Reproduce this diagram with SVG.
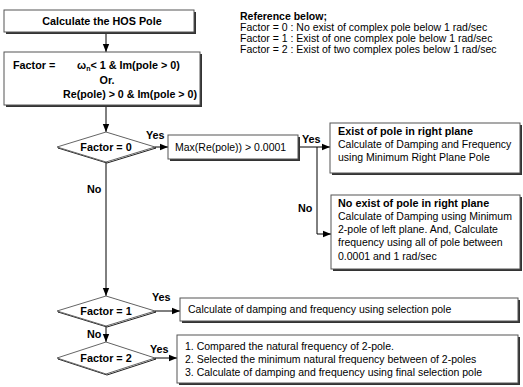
<svg xmlns="http://www.w3.org/2000/svg" width="523" height="387" viewBox="0 0 523 387">
<defs>
<marker id="arr" viewBox="0 0 8 8" refX="8" refY="4" markerWidth="8" markerHeight="8" markerUnits="userSpaceOnUse" orient="auto">
<path d="M0,0.8 L8,4 L0,7.2 z" fill="#000"/>
</marker>
<style>
text{font-family:"Liberation Sans",Arial,sans-serif;fill:#000}
.b{font-weight:bold;font-size:10.8px}
.n{font-size:10.5px}
.r{font-size:10.5px}
.box{fill:#fff;stroke:#555;stroke-width:1}
.sh{fill:#333}
.dia{fill:#fff;stroke:#666;stroke-width:1}
.dsh{fill:none;stroke:#222;stroke-width:1}
.c{stroke:#000;stroke-width:1;fill:none}
</style>
</defs>
<rect width="523" height="387" fill="#fff"/>

<g id="reference">
<text class="b" x="240" y="20" style="font-size:10.5px">Reference below;</text>
<text class="r" x="240" y="31">Factor = 0 : No exist of complex pole below 1 rad/sec</text>
<text class="r" x="240" y="42">Factor = 1 : Exist of one complex pole below 1 rad/sec</text>
<text class="r" x="240" y="53">Factor = 2 : Exist of two complex poles below 1 rad/sec</text>
</g>

<g id="connectors">
<line class="c" x1="106" y1="32" x2="106" y2="52" marker-end="url(#arr)"/>
<line class="c" x1="106" y1="105" x2="106" y2="132" marker-end="url(#arr)"/>
<line class="c" x1="155" y1="147" x2="168" y2="147" marker-end="url(#arr)"/>
<line class="c" x1="298" y1="147" x2="330" y2="147" marker-end="url(#arr)"/>
<polyline class="c" points="317,147 317,234 331,234" marker-end="url(#arr)"/>
<line class="c" x1="106" y1="162" x2="106" y2="296" marker-end="url(#arr)"/>
<line class="c" x1="155" y1="311" x2="180" y2="311" marker-end="url(#arr)"/>
<line class="c" x1="106" y1="326" x2="106" y2="342" marker-end="url(#arr)"/>
<line class="c" x1="155" y1="358" x2="177" y2="358" marker-end="url(#arr)"/>
<text class="b" x="146" y="139">Yes</text>
<text class="b" x="302" y="143">Yes</text>
<text class="b" x="298" y="212">No</text>
<text class="b" x="87" y="193">No</text>
<text class="b" x="152" y="301">Yes</text>
<text class="b" x="87" y="338">No</text>
<text class="b" x="150" y="353">Yes</text>
</g>

<g id="start">
<rect class="sh" x="6" y="12" width="190" height="22"/>
<rect class="box" x="4" y="10" width="190" height="22"/>
<text class="b" x="102" y="25" text-anchor="middle">Calculate the HOS Pole</text>
</g>

<g id="factor">
<rect class="sh" x="6" y="54" width="196" height="53"/>
<rect class="box" x="4" y="52" width="196" height="53"/>
<text class="b" x="13" y="69">Factor =</text>
<text class="b" x="77" y="69">ω<tspan font-size="7" dy="2">n</tspan><tspan dy="-2">&lt; 1 &amp; Im(pole &gt; 0)</tspan></text>
<text class="b" x="107" y="84" text-anchor="middle">Or.</text>
<text class="b" x="63" y="98" textLength="134" lengthAdjust="spacingAndGlyphs">Re(pole) &gt; 0 &amp; Im(pole &gt; 0)</text>
</g>

<g id="d0">
<polygon class="dsh" points="58,148 107,133 156,148 107,163"/>
<polygon class="dia" points="57,147 106,132 155,147 106,162"/>
<text class="b" x="106" y="151" text-anchor="middle">Factor = 0</text>
</g>

<g id="maxre">
<rect class="sh" x="170" y="137" width="130" height="24"/>
<rect class="box" x="168" y="135" width="130" height="24"/>
<text class="n" x="175" y="151">Max(Re(pole)) &gt; 0.0001</text>
</g>

<g id="exist">
<rect class="sh" x="332" y="125" width="190" height="50"/>
<rect class="box" x="330" y="123" width="190" height="50"/>
<text class="b" x="338" y="135">Exist of pole in right plane</text>
<text class="n" x="338" y="148">Calculate of Damping and Frequency</text>
<text class="n" x="338" y="161">using Minimum Right Plane Pole</text>
</g>

<g id="noexist">
<rect class="sh" x="333" y="197" width="189" height="74"/>
<rect class="box" x="331" y="195" width="189" height="74"/>
<text class="b" x="338" y="207">No exist of pole in right plane</text>
<text class="n" x="338" y="220">Calculate of Damping using Minimum</text>
<text class="n" x="338" y="233">2-pole of left plane. And, Calculate</text>
<text class="n" x="338" y="246">frequency using all of pole between</text>
<text class="n" x="338" y="260">0.0001 and 1 rad/sec</text>
</g>

<g id="d1">
<polygon class="dsh" points="58,312 107,297 156,312 107,327"/>
<polygon class="dia" points="57,311 106,296 155,311 106,326"/>
<text class="b" x="106" y="315" text-anchor="middle">Factor = 1</text>
</g>

<g id="sel">
<rect class="sh" x="182" y="300" width="338" height="23"/>
<rect class="box" x="180" y="298" width="338" height="23"/>
<text class="n" x="188" y="313">Calculate of damping and frequency using selection pole</text>
</g>

<g id="d2">
<polygon class="dsh" points="58,359 107,343 156,359 107,375"/>
<polygon class="dia" points="57,358 106,342 155,358 106,374"/>
<text class="b" x="106" y="362" text-anchor="middle">Factor = 2</text>
</g>

<g id="steps">
<rect class="sh" x="179" y="337" width="341" height="48"/>
<rect class="box" x="177" y="335" width="341" height="48"/>
<text class="n" x="185" y="350">1. Compared the natural frequency of 2-pole.</text>
<text class="n" x="185" y="363">2. Selected the minimum natural frequency between of 2-poles</text>
<text class="n" x="185" y="376">3. Calculate of damping and frequency using final selection pole</text>
</g>
</svg>
